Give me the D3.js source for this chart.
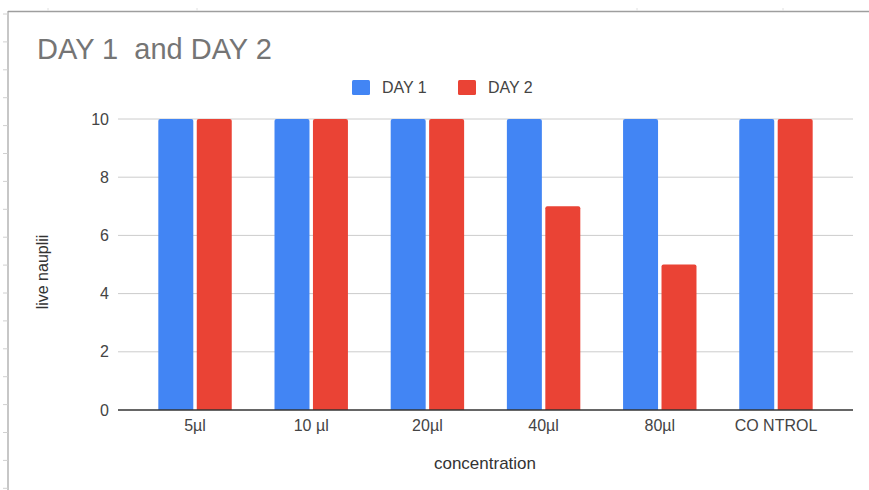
<!DOCTYPE html>
<html>
<head>
<meta charset="utf-8">
<script src="https://cdn.jsdelivr.net/npm/d3@7"></script>
<style>
  html, body { margin: 0; padding: 0; background: #fff; }
  svg { display: block; font-family: "Liberation Sans", Arial, sans-serif; }
</style>
</head>
<body>
<svg id="chart" width="869" height="490"></svg>
<script>
// Live nauplii counted per concentration on two days
const categories = ["5µl", "10 µl", "20µl", "40µl", "80µl", "CO NTROL"];
const seriesNames = ["DAY 1", "DAY 2"];
const day1 = [10, 10, 10, 10, 10, 10];
const day2 = [10, 10, 10, 7, 5, 10];
const yTicks = [0, 2, 4, 6, 8, 10];
const colors = ["#4285F4", "#EA4335"];

const svg = d3.select("#chart");
const W = 869, H = 490;

// sheet frame: left and top edges with small row/column marks
const frame = svg.append("g");
frame.append("line").attr("x1", 8).attr("x2", 8).attr("y1", 11).attr("y2", H)
  .attr("stroke", "#b5b5b5").attr("stroke-width", 1.5);
frame.append("line").attr("x1", 8).attr("x2", W).attr("y1", 11.5).attr("y2", 11.5)
  .attr("stroke", "#9e9e9e").attr("stroke-width", 1.5);
frame.selectAll("line.row").data(d3.range(0, 18)).join("line")
  .attr("class", "row")
  .attr("x1", 3).attr("x2", 8)
  .attr("y1", i => 14 + i * 27.9).attr("y2", i => 14 + i * 27.9)
  .attr("stroke", "#d0d0d0").attr("stroke-width", 1);
frame.selectAll("line.col").data([48, 197, 637, 783]).join("line")
  .attr("class", "col")
  .attr("x1", d => d).attr("x2", d => d).attr("y1", 8).attr("y2", 11)
  .attr("stroke", "#e0e0e0").attr("stroke-width", 1);

// title
svg.append("text")
  .attr("x", 37).attr("y", 59)
  .attr("fill", "#757575")
  .attr("font-size", 29)
  .style("white-space", "pre")
  .text("DAY 1  and DAY 2");

// legend
const legendX = [352, 458];
const legend = svg.append("g");
seriesNames.forEach((name, i) => {
  legend.append("rect")
    .attr("x", legendX[i]).attr("y", 80).attr("width", 18).attr("height", 15)
    .attr("rx", 1.5).attr("fill", colors[i]);
  legend.append("text")
    .attr("x", legendX[i] + 30).attr("y", 92.5)
    .attr("font-size", 16).attr("fill", "#444")
    .text(name);
});

// scales
const x0 = d3.scaleBand().domain(categories).range([118, 853])
  .paddingInner(0.368).paddingOuter(0.347);
const x1 = d3.scaleBand().domain(seriesNames).range([0, x0.bandwidth()])
  .paddingInner(0.09);
const y = d3.scaleLinear().domain([0, 10]).range([410, 119]);

// gridlines and y tick labels
const grid = svg.append("g");
grid.selectAll("line").data(yTicks.filter(t => t !== 0)).join("line")
  .attr("x1", 118).attr("x2", 853)
  .attr("y1", d => y(d)).attr("y2", d => y(d))
  .attr("stroke", "#cccccc").attr("stroke-width", 1);

svg.append("g").selectAll("text").data(yTicks).join("text")
  .attr("x", 109).attr("y", d => y(d) + 5.5)
  .attr("text-anchor", "end")
  .attr("font-size", 16).attr("fill", "#444")
  .text(d => d);

// bars with slightly rounded tops
function barPath(x, top, w, bottom, r) {
  const h = bottom - top;
  r = Math.min(r, h, w / 2);
  return `M${x},${bottom}V${top + r}Q${x},${top} ${x + r},${top}` +
         `H${x + w - r}Q${x + w},${top} ${x + w},${top + r}V${bottom}Z`;
}

const rows = categories.map((c, i) => ({ cat: c, values: [day1[i], day2[i]] }));
const groups = svg.append("g").selectAll("g").data(rows).join("g")
  .attr("transform", d => `translate(${x0(d.cat)},0)`);
groups.selectAll("path")
  .data(d => d.values.map((v, j) => ({ name: seriesNames[j], value: v, j })))
  .join("path")
  .attr("d", d => barPath(x1(d.name), y(d.value), x1.bandwidth(), y(0), 2))
  .attr("fill", d => colors[d.j]);

// baseline
svg.append("line")
  .attr("x1", 118).attr("x2", 853).attr("y1", y(0)).attr("y2", y(0))
  .attr("stroke", "#333").attr("stroke-width", 1.3);

// x tick labels
svg.append("g").selectAll("text").data(categories).join("text")
  .attr("x", d => x0(d) + x0.bandwidth() / 2)
  .attr("y", 431)
  .attr("text-anchor", "middle")
  .attr("font-size", 16).attr("fill", "#444")
  .style("white-space", "pre")
  .text(d => d);

// axis titles
svg.append("text")
  .attr("x", 485).attr("y", 469)
  .attr("text-anchor", "middle")
  .attr("font-size", 17).attr("fill", "#333")
  .text("concentration");

svg.append("text")
  .attr("transform", "translate(48,272) rotate(-90)")
  .attr("text-anchor", "middle")
  .attr("font-size", 16).attr("fill", "#333")
  .text("live nauplii");
</script>
</body>
</html>
